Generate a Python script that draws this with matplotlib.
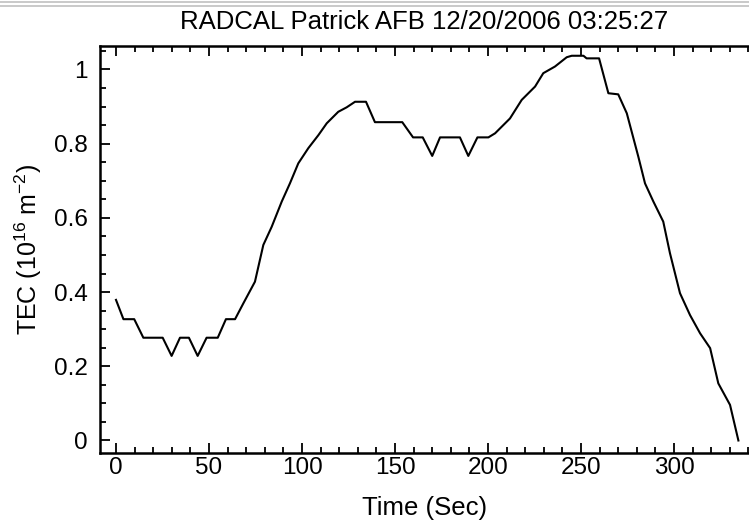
import matplotlib
matplotlib.use("Agg")
import matplotlib.pyplot as plt
from matplotlib.lines import Line2D
from matplotlib.ticker import MultipleLocator
from matplotlib import font_manager

time_sec = [0.0, 4.0, 9.8, 14.7, 25.1, 29.9, 34.4, 39.2, 43.9, 48.7, 54.7, 59.1,
            64.0, 68.5, 74.7, 79.2, 83.7, 89.1, 93.5, 98.0, 103.4, 108.8, 113.3,
            119.5, 124.0, 128.5, 134.4, 139.2, 153.9, 159.7, 164.9, 170.0, 174.2,
            184.9, 189.4, 194.3, 200.2, 203.8, 211.8, 218.1, 225.3, 229.7, 236.0,
            242.3, 245.0, 251.3, 253.0, 259.7, 264.7, 270.0, 274.6, 280.8, 284.4,
            288.9, 294.2, 297.8, 303.2, 308.6, 314.0, 319.4, 323.8, 330.1, 334.6]
tec = [0.379, 0.327, 0.327, 0.277, 0.277, 0.228, 0.277, 0.277, 0.228, 0.277,
       0.277, 0.327, 0.327, 0.370, 0.428, 0.527, 0.576, 0.644, 0.693, 0.747,
       0.788, 0.823, 0.855, 0.886, 0.898, 0.913, 0.913, 0.858, 0.858, 0.817,
       0.817, 0.767, 0.817, 0.817, 0.767, 0.817, 0.817, 0.828, 0.868, 0.918,
       0.954, 0.990, 1.008, 1.033, 1.037, 1.037, 1.030, 1.030, 0.936, 0.933,
       0.882, 0.765, 0.693, 0.644, 0.590, 0.505, 0.397, 0.338, 0.289, 0.249,
       0.154, 0.096, 0.000]

title = "RADCAL Patrick AFB 12/20/2006 03:25:27"
xlabel = "Time (Sec)"
ylabel = r"TEC (10$^{16}$ m$^{-2}$)"

installed = {f.name for f in font_manager.fontManager.ttflist}
family = [f for f in ["Liberation Sans Narrow", "Liberation Sans", "DejaVu Sans"] if f in installed]
plt.rcParams["font.family"] = family
plt.rcParams["mathtext.fontset"] = "custom"
plt.rcParams["mathtext.rm"] = family[0]

W, H = 749, 522
fig = plt.figure(figsize=(W / 100, H / 100), dpi=100)
fig.patch.set_facecolor("white")

# window frame lines at the very top
for yp in (1.5, 5.5):
    fig.add_artist(Line2D([0, 1], [1 - yp / H, 1 - yp / H], transform=fig.transFigure,
                          color="#c0c0c0", lw=1.2))

left, right, top, bottom = 100, 749, 46, 453
ax = fig.add_axes([left / W, 1 - bottom / H, (right - left) / W, (bottom - top) / H])
ax.plot(time_sec, tec, color="black", lw=1.5)

ax.set_xlim(-8.6, 340.3)
ax.set_ylim(-0.0337, 1.0633)
ax.xaxis.set_major_locator(MultipleLocator(50))
ax.xaxis.set_minor_locator(MultipleLocator(10))
ax.yaxis.set_major_locator(MultipleLocator(0.2))
ax.yaxis.set_minor_locator(MultipleLocator(0.05))
ax.yaxis.set_major_formatter(plt.FuncFormatter(
    lambda v, p: "0" if abs(v) < 1e-9 else ("1" if abs(v - 1) < 1e-9 else f"{v:.1f}")))

ax.tick_params(which="both", direction="in", top=True, right=False, width=1.3, colors="black")
ax.tick_params(which="major", length=7, labelsize=17.5)
ax.tick_params(which="minor", length=4)
ax.tick_params(axis="x", pad=3)
ax.tick_params(axis="y", pad=9)

for side in ("left", "bottom", "top"):
    ax.spines[side].set_linewidth(1.8)
ax.spines["right"].set_visible(False)

ax.set_title(title, fontsize=18.5, pad=12)
ax.set_xlabel(xlabel, fontsize=18.5, labelpad=12)
ax.set_ylabel(ylabel, fontsize=18, labelpad=7)

fig.savefig("out.png", dpi=100, facecolor="white")
